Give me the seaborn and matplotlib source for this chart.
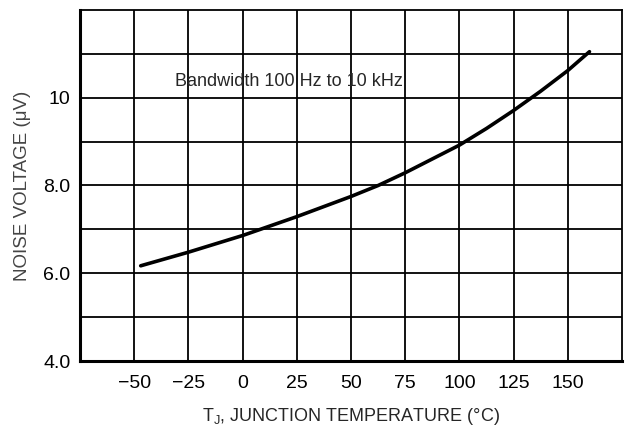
import numpy as np
import pandas as pd
import seaborn as sns
import matplotlib.pyplot as plt

# values
temp = [-47, -25, 0, 25, 50, 62.5, 75, 100, 112.5, 125, 137.5, 150, 160]
noise = [6.17, 6.48, 6.86, 7.29, 7.75, 8.0, 8.29, 8.92, 9.30, 9.71, 10.15, 10.62, 11.05]

x_ticks = [-50, -25, 0, 25, 50, 75, 100, 125, 150]
x_tick_labels = ['\u221250', '\u221225', '0', '25', '50', '75', '100', '125', '150']
y_ticks = [4, 6, 8, 10]
y_tick_labels = ['4.0', '6.0', '8.0', '10']
y_grid = [5, 6, 7, 8, 9, 10, 11]

df = pd.DataFrame({'T': temp, 'V': noise})

sns.set_style('white')
plt.rcParams['font.family'] = ['Liberation Sans', 'DejaVu Sans']
plt.rcParams['mathtext.default'] = 'regular'

fig = plt.figure(figsize=(6.29, 4.30), dpi=100)
ax = fig.add_axes([80 / 629, 1 - 361 / 430, 542 / 629, 351 / 430])

for gx in x_ticks:
    ax.axvline(gx, color='black', lw=1.3, zorder=1)
for gy in y_grid:
    ax.axhline(gy, color='black', lw=1.3, zorder=1)

sns.lineplot(data=df, x='T', y='V', ax=ax, color='black', lw=2.6, zorder=3)
ax.lines[-1].set_solid_capstyle('round')
ax.lines[-1].set_solid_joinstyle('round')

ax.set_xlim(-75, 175)
ax.set_ylim(4, 12)
ax.set_xticks(x_ticks)
ax.set_xticklabels(x_tick_labels)
ax.set_yticks(y_ticks)
ax.set_yticklabels(y_tick_labels)
ax.tick_params(axis='both', length=0, labelsize=14, colors='black')
ax.tick_params(axis='x', pad=10)
ax.tick_params(axis='y', pad=7)

for side in ['left', 'bottom']:
    ax.spines[side].set_linewidth(2.2)
    ax.spines[side].set_color('black')
for side in ['top', 'right']:
    ax.spines[side].set_linewidth(1.3)
    ax.spines[side].set_color('black')
    ax.spines[side].set_visible(True)

ax.set_xlabel('T$_{J}$, JUNCTION TEMPERATURE (\u00b0C)', fontsize=13, labelpad=10)
ax.set_ylabel('NOISE VOLTAGE (\u03bcV)', fontsize=13.5, labelpad=9, color='#444444')

ax.text(-31, 10.36, 'Bandwidth 100 Hz to 10 kHz', fontsize=13, va='center', ha='left')

fig.savefig('out.png', dpi=100)
